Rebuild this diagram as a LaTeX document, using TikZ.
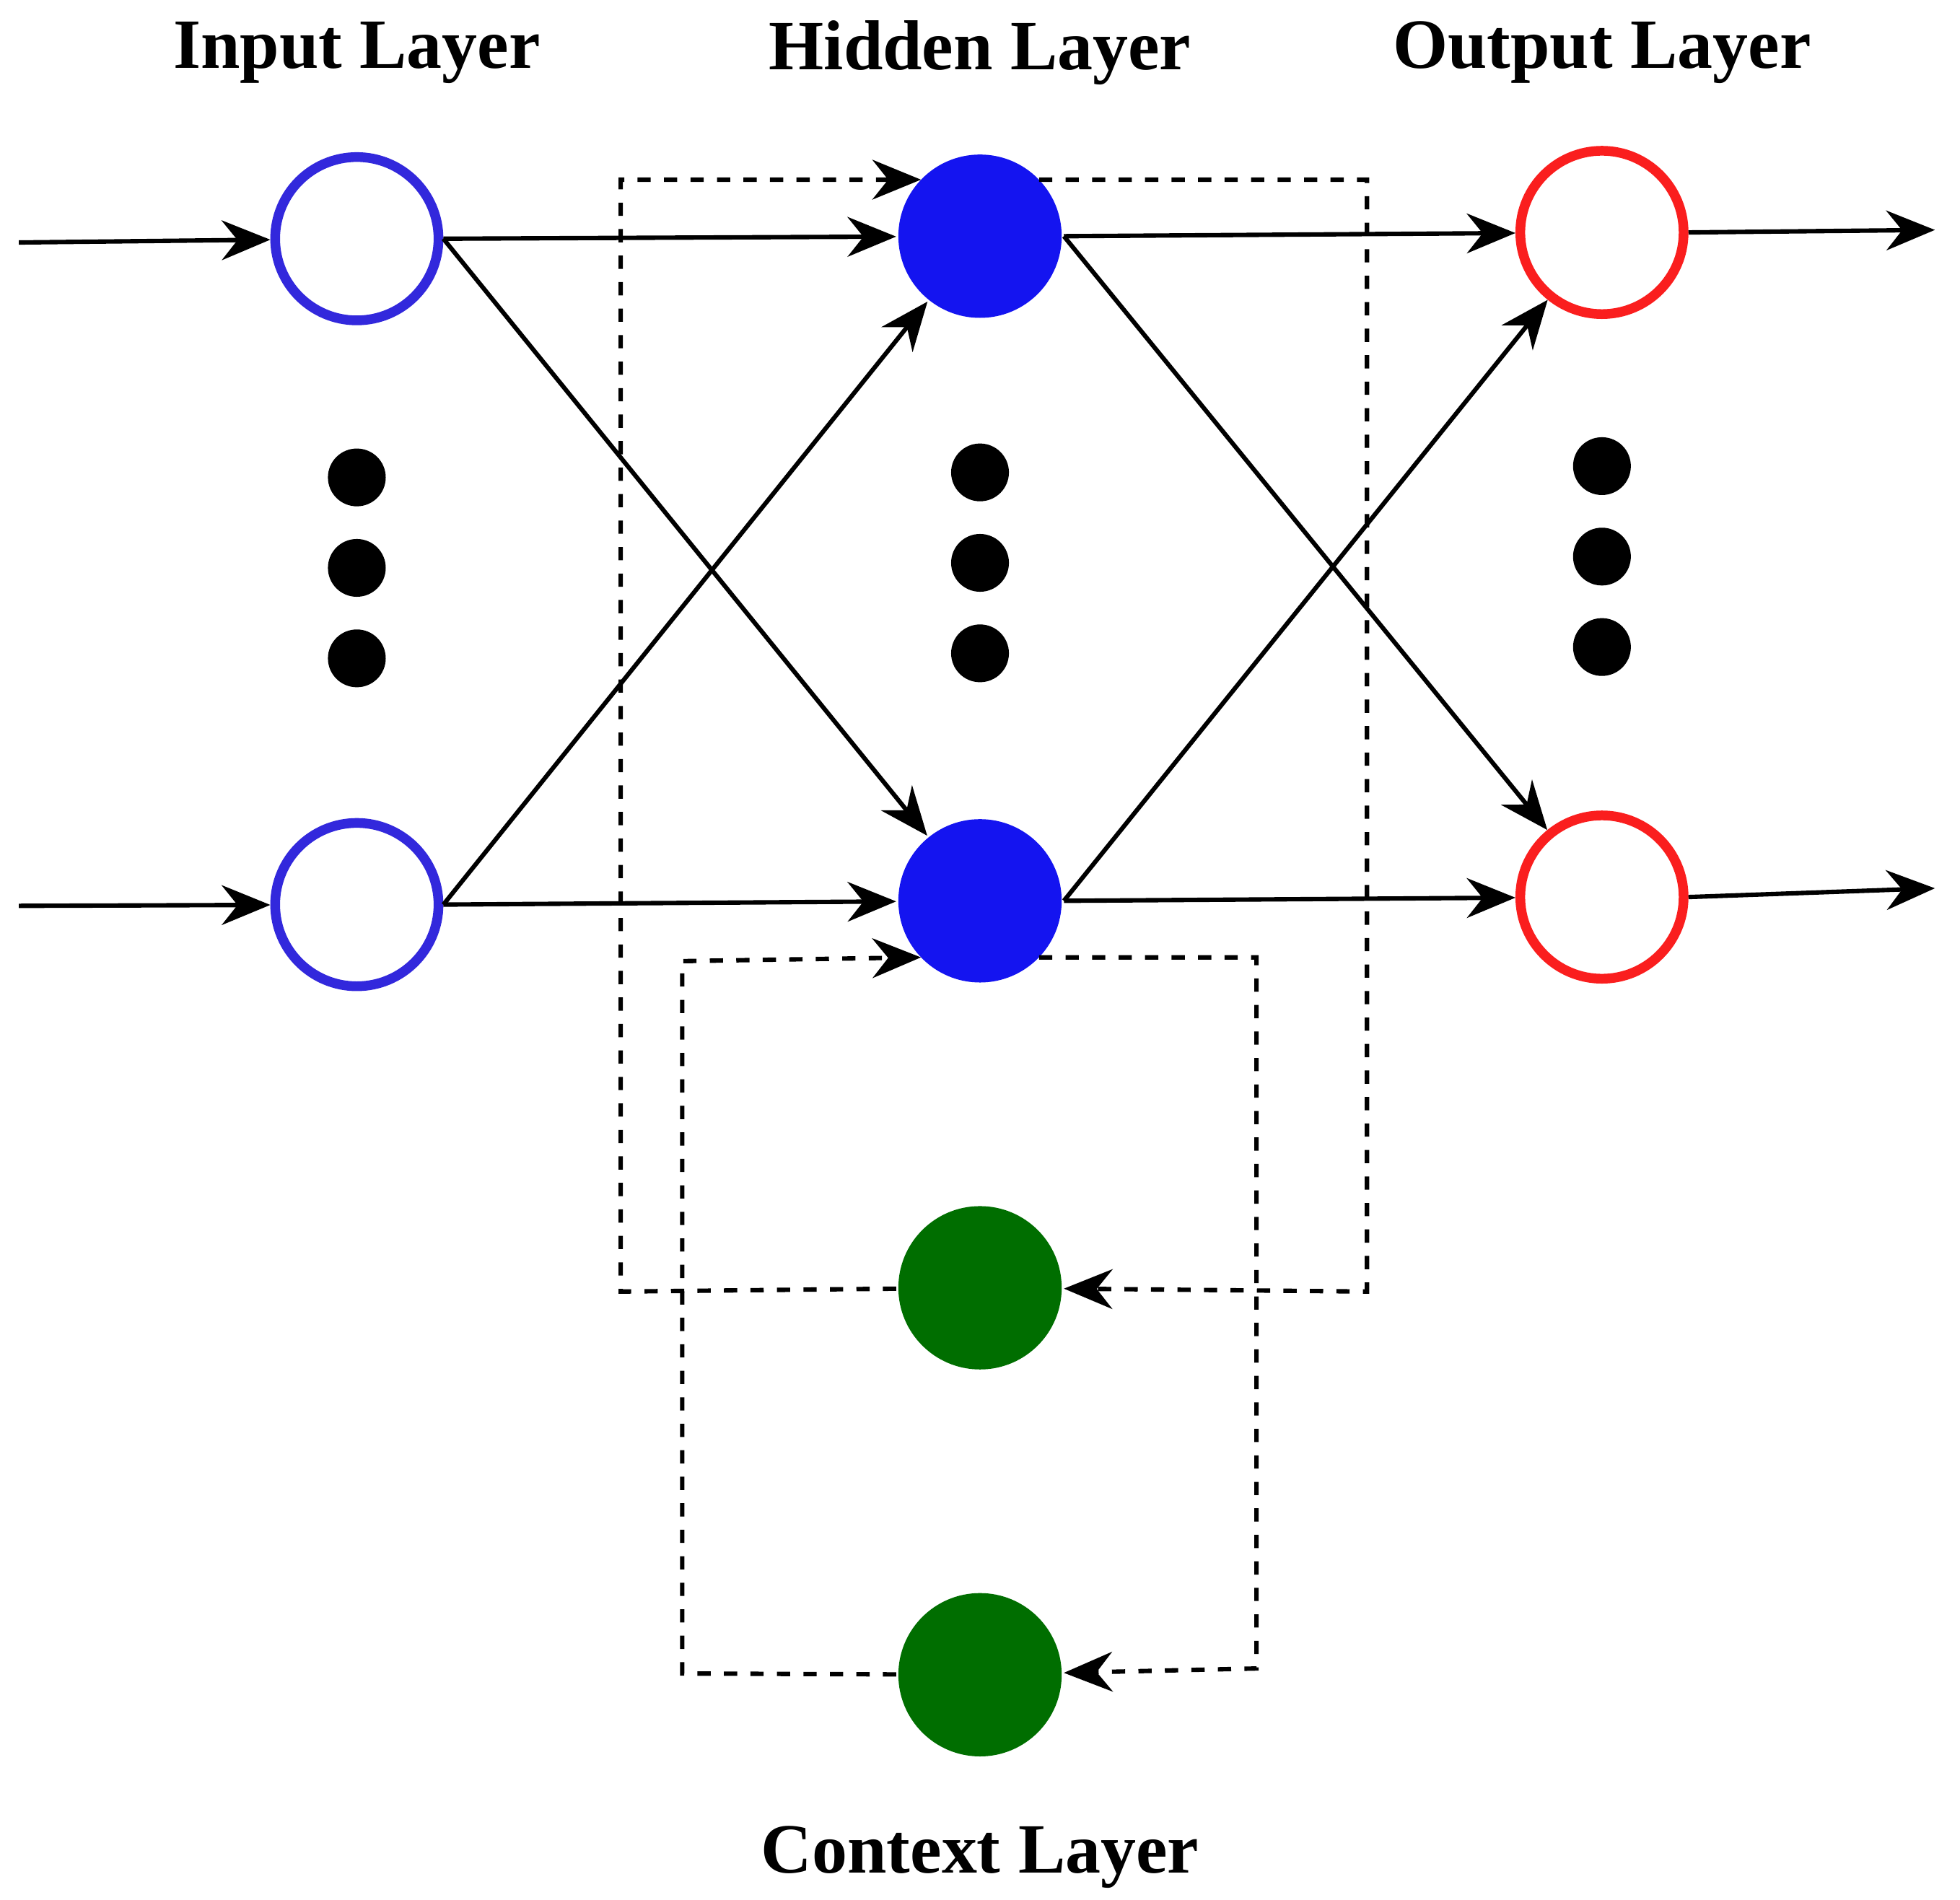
\documentclass[tikz,border=0pt]{standalone}
\usepackage{fontspec}
\setmainfont{Liberation Serif}
\usetikzlibrary{arrows.meta}
\definecolor{inblue}{RGB}{50,40,220}
\definecolor{hidblue}{RGB}{20,20,240}
\definecolor{outred}{RGB}{250,30,30}
\definecolor{ctxgreen}{RGB}{0,110,0}

\begin{document}
\begin{tikzpicture}[>={Stealth[length=11pt,width=9pt]},line width=1pt]
      \tikzstyle{neuron}=[circle,minimum size=1.3cm,inner sep=0pt]
      \tikzstyle{inneuron}=[neuron,draw=inblue,line width=2.2pt]
      \tikzstyle{hidneuron}=[neuron,fill=hidblue]
      \tikzstyle{outneuron}=[neuron,draw=outred,line width=2.2pt]
      \tikzstyle{ctxneuron}=[neuron,fill=ctxgreen]
      \tikzstyle{dot}=[circle,fill=black,minimum size=0.46cm,inner sep=0pt]
      \tikzstyle{title}=[font=\fontsize{16}{19}\selectfont\bfseries]
      \useasboundingbox (0,0) rectangle (15.6,-15.12);

      \node[title] (TI) at (2.84,-0.42)  {Input Layer};
      \node[title] (TH) at (7.80,-0.42)  {Hidden Layer};
      \node[title] (TO) at (12.75,-0.42) {Output Layer};
      \node[title] (TC) at (7.80,-14.78) {Context Layer};

      \node[inneuron]  (I1) at (2.84,-1.90)  {};
      \node[inneuron]  (I2) at (2.84,-7.20)  {};
      \node[hidneuron] (H1) at (7.80,-1.88)  {};
      \node[hidneuron] (H2) at (7.80,-7.17)  {};
      \node[outneuron] (O1) at (12.75,-1.85) {};
      \node[outneuron] (O2) at (12.75,-7.14) {};
      \node[ctxneuron] (C1) at (7.80,-10.25) {};
      \node[ctxneuron] (C2) at (7.80,-13.33) {};

      \foreach \y [count=\i] in {3.78,4.50,5.22} {
        \node[dot] (DI\i) at (2.84,-\y-0.02) {};
        \node[dot] (DH\i) at (7.80,-\y+0.02) {};
        \node[dot] (DO\i) at (12.75,-\y+0.07) {};
      }

      \coordinate (X1) at (0.15,-1.93);
      \coordinate (X2) at (0.15,-7.21);
      \coordinate (Y1) at (15.40,-1.83);
      \coordinate (Y2) at (15.40,-7.07);

      \draw[->] (X1) -- (I1);
      \draw[->] (X2) -- (I2);
      \draw[->] (O1.east) -- (Y1);
      \draw[->] (O2.east) -- (Y2);

      \draw[->] (I1.east) -- (H1);
      \draw[->] (I1.east) -- (H2);
      \draw[->] (I2.east) -- (H1);
      \draw[->] (I2.east) -- (H2);
      \draw[->] (H1.east) -- (O1);
      \draw[->] (H1.east) -- (O2);
      \draw[->] (H2.east) -- (O1);
      \draw[->] (H2.east) -- (O2);

      % context loops
      \coordinate (H1l) at (7.33,-1.43);
      \coordinate (H1r) at (8.27,-1.43);
      \coordinate (H2l) at (7.33,-7.62);
      \coordinate (H2r) at (8.27,-7.62);
      \draw[dashed,->] (H1r) -- (10.88,-1.43) -- (10.88,-10.28) -- (C1);
      \draw[dashed,->] (C1) -- (4.94,-10.28) -- (4.94,-1.43) -- (H1l);
      \draw[dashed,->] (H2r) -- (10.00,-7.62) -- (10.00,-13.28) -- (C2);
      \draw[dashed,->] (C2) -- (5.43,-13.32) -- (5.43,-7.65) -- (H2l);
\end{tikzpicture}
\end{document}
